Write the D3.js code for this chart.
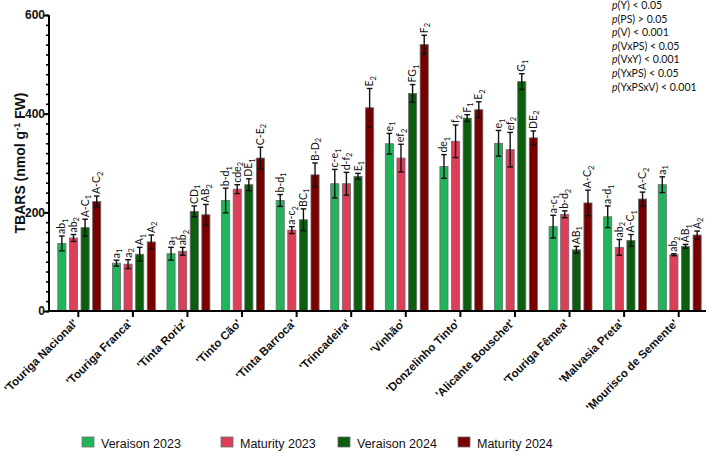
<!DOCTYPE html>
<html lang="en">
<head>
    <meta charset="UTF-8">
    <title>TBARS by variety</title>
    <style>
        body { margin: 0; background: #fff; }
    </style>
</head>
<body>
    <script src="https://d3js.org/d3.v7.min.js"></script>
    <script>
        // varieties (x categories)
        let varieties = ["'Touriga Nacional'", "'Touriga Franca'", "'Tinta Roriz'", "'Tinto Cão'",
            "'Tinta Barroca'", "'Trincadeira'", "'Vinhão'", "'Donzelinho Tinto'",
            "'Alicante Bouschet'", "'Touriga Fêmea'", "'Malvasia Preta'", "'Mourisco de Semente'"];
        let seriesNames = ["Veraison 2023", "Maturity 2023", "Veraison 2024", "Maturity 2024"];
        let seriesColors = ["#21b55b", "#dd3e58", "#0b5e0d", "#7a0000"];

        // means
        let ver23 = [137, 97, 116, 224, 224, 258, 339, 293, 340, 171, 191, 256];
        let mat23 = [148, 95, 121, 247, 164, 258, 310, 344, 327, 196, 129, 114];
        let ver24 = [169, 115, 202, 256, 185, 273, 441, 391, 465, 124, 143, 131];
        let mat24 = [222, 140, 195, 310, 276, 412, 540, 408, 351, 219, 227, 154];
        // error bars (+/-)
        let ver23Err = [15, 6, 13, 25, 12, 29, 21, 24, 26, 23, 22, 16];
        let mat23Err = [7, 9, 8, 9, 7, 23, 28, 33, 35, 7, 16, 2];
        let ver24Err = [17, 14, 11, 12, 22, 6, 18, 7, 16, 7, 12, 4];
        let mat24Err = [11, 14, 21, 22, 24, 39, 19, 16, 14, 26, 14, 8];
        // letters, "_" marks the subscript
        let ver23Lab = ["ab_1", "a_1", "a_1", "b-d_1", "b-d_1", "c-e_1", "e_1", "de_1", "e_1", "a-c_1", "a-d_1", "a_1"];
        let mat23Lab = ["ab_2", "a_2", "ab_2", "cde_2", "a-c_2", "d-f_2", "ef_2", "f_2", "ef_2", "b-d_2", "ab_2", "ab_2"];
        let ver24Lab = ["A-C_1", "A_1", "CD_1", "DE_1", "BC_1", "E_1", "FG_1", "F_1", "G_1", "AB_1", "A-C_1", "AB_1"];
        let mat24Lab = ["A-C_2", "A_2", "AB_2", "C-E_2", "B-D_2", "E_2", "F_2", "E_2", "DE_2", "A-C_2", "A-C_2", "A_2"];

        let yTicks = [0, 200, 400, 600];
        let stats = [["(Y) < 0.05"], ["(PS) > 0.05"], ["(V) < 0.001"], ["(VxPS) < 0.05"],
            ["(VxY) < 0.001"], ["(YxPS) < 0.05"], ["(YxPSxV) < 0.001"]];

        let means = [ver23, mat23, ver24, mat24];
        let errs = [ver23Err, mat23Err, ver24Err, mat24Err];
        let labs = [ver23Lab, mat23Lab, ver24Lab, mat24Lab];

        let width = 708, height = 456;
        let svg = d3.select("body").append("svg")
            .attr("width", width)
            .attr("height", height)
            .style("font-family", "'Liberation Sans', Arial, sans-serif");

        let x0 = d3.scaleBand().domain(varieties).range([51, 706]);
        let x1 = d3.scaleBand().domain(d3.range(4)).range([0, x0.bandwidth()])
            .paddingInner(0.3).paddingOuter(0.5);
        let y = d3.scaleLinear().domain([0, 600]).range([311, 15]);

        // flat list of bars
        let bars = [];
        varieties.forEach(function(v, i){
            for (let s = 0; s < 4; s++) {
                bars.push({ cat: v, s: s, val: means[s][i], err: errs[s][i], lab: labs[s][i] });
            }
        });

        // bars
        svg.append("g").selectAll("rect").data(bars).enter().append("rect")
            .attr("x", function(d){ return x0(d.cat) + x1(d.s) + 1; })
            .attr("width", x1.bandwidth())
            .attr("y", function(d){ return y(d.val); })
            .attr("height", function(d){ return y(0) - y(d.val); })
            .attr("fill", function(d){ return seriesColors[d.s]; })
            .attr("stroke", "#6b6b6b")
            .attr("stroke-width", 0.8);

        // error bars
        let eb = svg.append("g").attr("stroke", "#111").attr("stroke-width", 1.4);
        bars.forEach(function(d){
            let cx = x0(d.cat) + x1(d.s) + 1 + x1.bandwidth() / 2;
            eb.append("line").attr("x1", cx).attr("x2", cx)
                .attr("y1", y(d.val + d.err)).attr("y2", y(d.val - d.err));
            [d.val + d.err, d.val - d.err].forEach(function(v){
                eb.append("line").attr("x1", cx - 2.8).attr("x2", cx + 2.8)
                    .attr("y1", y(v)).attr("y2", y(v));
            });
        });

        // significance letters
        let lg = svg.append("g").style("font-family", "Lato, 'Open Sans', sans-serif");
        bars.forEach(function(d){
            let cx = x0(d.cat) + x1(d.s) + 1 + x1.bandwidth() / 2;
            let parts = d.lab.split("_");
            let t = lg.append("text")
                .attr("transform", "translate(" + (cx + 3.5) + "," + (y(d.val + d.err) - 2) + ") rotate(-90)")
                .attr("font-size", 10.5)
                .attr("fill", "#111");
            t.append("tspan").text(parts[0]);
            t.append("tspan").attr("dy", 2.5).attr("font-size", 7.5).text(parts[1]);
        });

        // y axis
        let yAxis = svg.append("g").attr("transform", "translate(49,0)");
        yAxis.call(d3.axisLeft(y).tickValues(d3.range(0, 601, 20)).tickSize(3).tickFormat(""))
            .call(function(g){ g.selectAll("line").attr("stroke-width", 1.6); });
        yAxis.append("g").call(d3.axisLeft(y).tickValues(yTicks).tickSize(5))
            .call(function(g){
                g.select(".domain").remove();
                g.selectAll("line").attr("stroke-width", 2);
                g.selectAll("text").attr("font-size", 12).attr("font-weight", "bold")
                    .attr("fill", "#111").attr("x", -4)
                    .style("font-family", "'Liberation Sans', Arial, sans-serif");
            });
        yAxis.select(".domain").attr("stroke-width", 2).attr("d", "M0,15V311");

        // x axis
        let xAxis = svg.append("g").attr("transform", "translate(0,311)");
        xAxis.call(d3.axisBottom(x0).tickSize(6).tickSizeOuter(0))
            .call(function(g){
                g.select(".domain").attr("stroke-width", 2).attr("d", "M48,0H706");
                g.selectAll("line").attr("stroke-width", 2);
                g.selectAll("text")
                    .attr("font-size", 11.5).attr("font-weight", "bold").attr("fill", "#111")
                    .style("font-family", "'Liberation Sans', Arial, sans-serif")
                    .attr("text-anchor", "end")
                    .attr("dy", null).attr("y", 0)
                    .attr("transform", "translate(0,13) rotate(-45)");
            });

        // y label
        let yl = svg.append("text")
            .attr("transform", "translate(20,163) rotate(-90)")
            .attr("text-anchor", "middle")
            .attr("dy", "0.35em")
            .attr("font-size", 14).attr("font-weight", "bold").attr("fill", "#111");
        yl.append("tspan").text("TBARS (nmol g");
        yl.append("tspan").attr("dy", -5).attr("font-size", 9).text("-1");
        yl.append("tspan").attr("dy", 5).text(" FW)");

        // p-values
        let sg = svg.append("g").style("font-family", "Lato, 'Open Sans', sans-serif");
        stats.forEach(function(s, i){
            let t = sg.append("text").attr("x", 612).attr("y", 9 + i * 13.6)
                .attr("font-size", 10.5).attr("fill", "#111");
            t.append("tspan").attr("font-style", "italic").text("p");
            t.append("tspan").text(s[0]);
        });

        // legend
        let legX = [82, 221, 338, 458];
        let leg = svg.append("g").selectAll("g").data(seriesNames).enter().append("g")
            .attr("transform", function(d, i){ return "translate(" + legX[i] + ",437)"; });
        leg.append("rect").attr("width", 12).attr("height", 10)
            .attr("fill", function(d, i){ return seriesColors[i]; })
            .attr("stroke", "#6b6b6b").attr("stroke-width", 0.8);
        leg.append("text").attr("x", 19).attr("y", 10.5)
            .attr("font-size", 12.5).attr("fill", "#111")
            .text(function(d){ return d; });
    </script>
</body>
</html>
